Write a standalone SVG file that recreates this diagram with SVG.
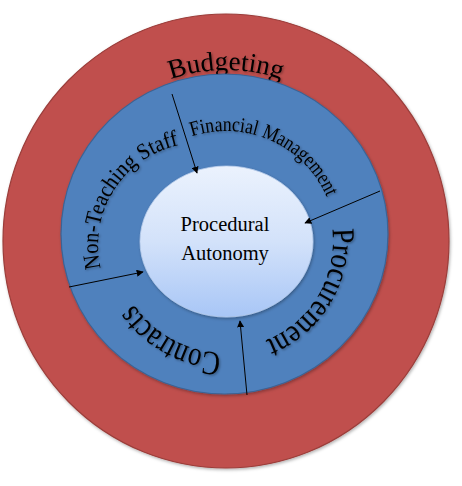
<svg xmlns="http://www.w3.org/2000/svg" width="462" height="486" viewBox="0 0 462 486">
  <defs>
    <style>
      .lbl { font-family: "Liberation Serif", "Times New Roman", serif; fill: #000; filter: url(#tshadow); }
      .conn { stroke: #000; stroke-width: 1; fill: none; marker-end: url(#arrow); }
    </style>
    <filter id="tshadow" x="-20%" y="-20%" width="140%" height="140%">
      <feDropShadow dx="1.2" dy="1.2" stdDeviation="0.9" flood-color="#000" flood-opacity="0.35"/>
    </filter>
    <filter id="shapeshadow" x="-10%" y="-10%" width="120%" height="120%">
      <feDropShadow dx="1" dy="1.5" stdDeviation="1.5" flood-color="#000" flood-opacity="0.3"/>
    </filter>
    <linearGradient id="coreGrad" x1="0" y1="0" x2="0" y2="1">
      <stop offset="0" stop-color="#EBF2FD"/>
      <stop offset="0.5" stop-color="#D3E2FA"/>
      <stop offset="1" stop-color="#A8C6F6"/>
    </linearGradient>
    <marker id="arrow" viewBox="0 0 10 10" refX="9" refY="5" markerWidth="7" markerHeight="7" orient="auto" markerUnits="userSpaceOnUse">
      <path d="M0,0 L10,5 L0,10 z" fill="#000"/>
    </marker>
    <path id="pBudget" d="M77.9,155.5 A171,171 0 0 1 374.1,155.5"/>
    <path id="pFin" d="M130.74,186 A110,110 0 0 1 329.37,278.62"/>
    <path id="pStaff" d="M140.05,327.52 A102,102 0 0 1 244.71,153.32"/>
    <path id="pProc" d="M287.37,153.35 A107,107 0 0 1 177.42,336.34"/>
    <path id="pContr" d="M317.75,305.24 A112,112 0 0 1 122.9,197.24"/>
  </defs>

  <g id="budgeting">
    <ellipse cx="226" cy="241" rx="223" ry="227" fill="#C0504D" stroke="#9B3D3A" stroke-width="1.2" filter="url(#shapeshadow)"/>
    <text class="lbl" font-size="27"><textPath href="#pBudget" startOffset="50%" text-anchor="middle">Budgeting</textPath></text>
  </g>

  <g id="ring">
    <ellipse cx="224.5" cy="234" rx="163.5" ry="160" fill="#4F81BD" stroke="#3A6496" stroke-width="1.2" filter="url(#shapeshadow)"/>
  </g>

  <g id="financial-management">
    <text class="lbl" font-size="21"><textPath href="#pFin" startOffset="49.5%" text-anchor="middle" textLength="162" lengthAdjust="spacingAndGlyphs">Financial Management</textPath></text>
  </g>

  <g id="non-teaching-staff">
    <text class="lbl" font-size="23"><textPath href="#pStaff" startOffset="50.8%" text-anchor="middle" textLength="162" lengthAdjust="spacingAndGlyphs">Non-Teaching Staff</textPath></text>
  </g>

  <g id="procurement">
    <text class="lbl" font-size="32"><textPath href="#pProc" startOffset="50%" text-anchor="middle" textLength="140" lengthAdjust="spacingAndGlyphs">Procurement</textPath></text>
  </g>

  <g id="contracts">
    <text class="lbl" font-size="34"><textPath href="#pContr" startOffset="50%" text-anchor="middle" textLength="104" lengthAdjust="spacingAndGlyphs">Contracts</textPath></text>
  </g>

  <g id="procedural-autonomy">
    <ellipse cx="226.5" cy="241.5" rx="86.5" ry="75.5" fill="url(#coreGrad)" stroke="#B9CDEB" stroke-width="0.8" filter="url(#shapeshadow)"/>
    <text x="225" y="231" font-family="'Liberation Serif', 'Times New Roman', serif" font-size="20.5" text-anchor="middle" fill="#000">Procedural</text>
    <text x="225" y="260" font-family="'Liberation Serif', 'Times New Roman', serif" font-size="20.5" text-anchor="middle" fill="#000">Autonomy</text>
  </g>

  <g id="connectors">
    <line class="conn" x1="172" y1="94" x2="197" y2="173"/>
    <line class="conn" x1="380" y1="191" x2="305" y2="223"/>
    <line class="conn" x1="247" y1="395" x2="240" y2="321"/>
    <line class="conn" x1="69" y1="287" x2="143" y2="272"/>
  </g>
</svg>
